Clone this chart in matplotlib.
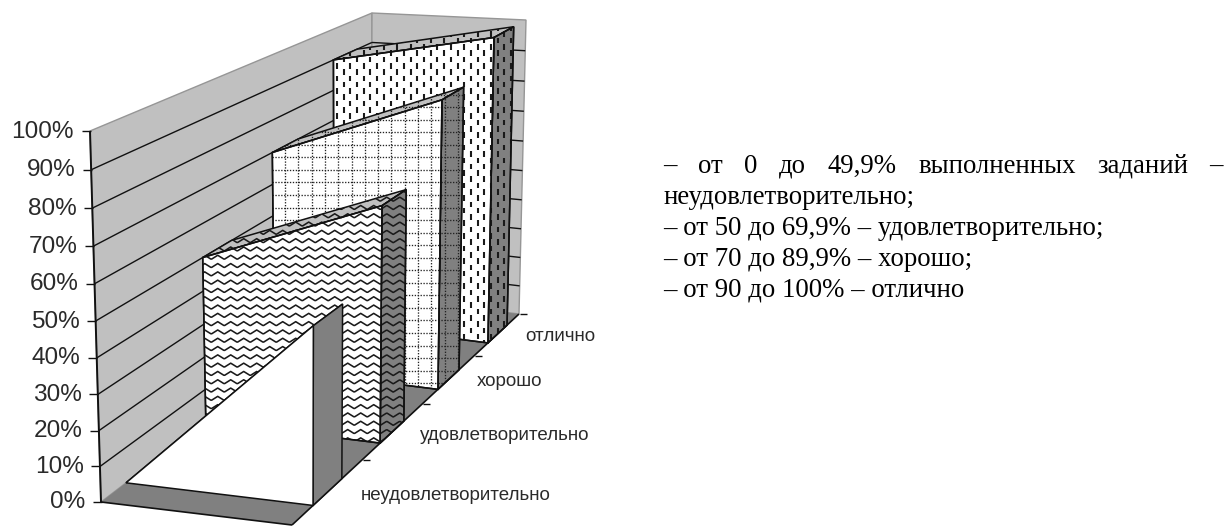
import numpy as np
import matplotlib
matplotlib.use("Agg")
import matplotlib.pyplot as plt
from matplotlib.patches import Polygon

# ---- data (area-chart series: value at left end, value at right end) ----
categories = ["неудовлетворительно", "удовлетворительно", "хорошо", "отлично"]
low_values = [0, 50, 70, 90]
high_values = [49.9, 69.9, 89.9, 100]
percent_ticks = [0, 10, 20, 30, 40, 50, 60, 70, 80, 90, 100]
note_words = ["–", "от", "0", "до", "49,9%", "выполненных", "заданий", "–"]
note_lines = ["неудовлетворительно;",
              "– от 50 до 69,9% – удовлетворительно;",
              "– от 70 до 89,9% – хорошо;",
              "– от 90 до 100% – отлично"]

# ---- scene geometry ----
W, H = 1225, 526
CORNERS = {  # box corner (x, depth, z) -> pixel
    (0, 0, 0): (101, 502), (1, 0, 0): (292, 525), (0, 0, 1): (90, 131), (1, 0, 1): (292, 148),
    (0, 1, 0): (371, 295), (1, 1, 0): (519, 314), (0, 1, 1): (372, 13), (1, 1, 1): (526, 20),
}
K = 0.336      # perspective along depth
KZ = 0.05      # perspective along height
FRONT = [0.071, 0.322, 0.574, 0.825]
BACK = [0.174, 0.421, 0.676, 0.931]
LABEL_DX = [32, 27, 28.5, 28]
LABEL_DY = [4.5, 4.5, 2.5, 2.5]
WALL = "#c0c0c0"
DARK = "#808080"
EDGE = "#111111"


def project(x, d, z):
    s = (K * d / (1 + K * d)) / (K / (1 + K))
    f = z / (1 + KZ * (1 - z))
    p = np.zeros(2)
    for cx, wx in ((0, 1 - x), (1, x)):
        for cz, wz in ((0, 1 - f), (1, f)):
            for cd, wd in ((0, 1 - s), (1, s)):
                p += wx * wz * wd * np.array(CORNERS[(cx, cd, cz)], float)
    return p


fig = plt.figure(figsize=(W / 100, H / 100), dpi=100)
ax = fig.add_axes([0, 0, 1, 1])
ax.set_xlim(0, W)
ax.set_ylim(H, 0)
ax.axis("off")


def poly(pts, fc, ec=EDGE, lw=1.1, z=2):
    p = Polygon(np.array(pts), closed=True, fc=fc, ec=ec, lw=lw, zorder=z, joinstyle="miter")
    ax.add_patch(p)
    return p


def line(a, b, color=EDGE, lw=1.0, z=2):
    ax.plot([a[0], b[0]], [a[1], b[1]], color=color, lw=lw, zorder=z, solid_capstyle="butt")


def fill_pattern(patch, kind, z):
    """screen-space fill patterns, clipped to the patch"""
    pts = patch.get_xy()
    x0, y0 = pts.min(0)
    x1, y1 = pts.max(0)
    arts = []
    if kind == "wave":
        xs = np.arange(x0 - 14, x1 + 14, 1.0)
        for r in np.arange(0, H, 8.3):
            if y0 - 4 <= r <= y1 + 4:
                ys = r + 1.3 * np.arcsin(np.sin(2 * np.pi * xs / 13.0))
                arts += ax.plot(xs, ys, color="#1a1a1a", lw=1.15, zorder=z)
    elif kind == "grid":
        for c in np.arange(5.7, W, 13.3):
            if x0 <= c <= x1:
                arts += ax.plot([c, c], [y0, y1], color="#222222", lw=0.95, ls=(0, (1, 1.2)), zorder=z)
        for r in np.arange(6.7, H, 12.55):
            if y0 <= r <= y1:
                arts += ax.plot([x0, x1], [r, r], color="#222222", lw=0.95, ls=(0, (1, 1.2)), zorder=z)
    elif kind == "dash":
        for i, c in enumerate(np.arange(2, W, 6.7)):
            if x0 - 1 <= c <= x1 + 1:
                offs = 6.3 if i % 2 else 0
                for r in np.arange(offs, H, 12.6):
                    if y0 - 6 <= r <= y1 + 6:
                        arts += ax.plot([c, c], [r, r + 5.5], color="#1a1a1a", lw=1.5, zorder=z,
                                        solid_capstyle="butt")
    for a in arts:
        a.set_clip_path(patch)


# walls and floor
poly([project(0, 0, 0), project(0, 0, 1), project(0, 1, 1), project(0, 1, 0)], WALL, ec="#969696", lw=1.0, z=1)
poly([project(0, 1, 0), project(0, 1, 1), project(1, 1, 1), project(1, 1, 0)], WALL, ec="#969696", lw=1.0, z=1)
for t in percent_ticks[1:-1]:
    z = t / 100
    line(project(0, 0, z), project(0, 1, z), z=1.5)
    line(project(0, 1, z), project(1, 1, z), z=1.5)
poly([project(0, 0, 0), project(1, 0, 0), project(1, 1, 0), project(0, 1, 0)], DARK, ec="none", z=1.6)
line(project(0, 0, 0), project(1, 0, 0), lw=1.2, z=1.7)
line(project(1, 0, 0), project(1, 1, 0), lw=1.2, z=1.7)

# value axis
line(project(0, 0, 0), project(0, 0, 1), lw=1.4, z=8)
for t in percent_ticks:
    a = project(0, 0, t / 100)
    line(a - np.array([8.5, 0]), a + np.array([0.5, 0]), lw=1.0, z=8)
    ax.text(a[0] - 16, a[1] + 0.5, f"{t}%", ha="right", va="center", fontsize=17.6,
            family="Liberation Sans", color="#2a2a2a", zorder=9)

# depth-axis ticks
for d in (0.25, 0.5, 0.75, 1.0):
    a = project(1, d, 0)
    line(a + np.array([1, 0]), a + np.array([8, 0]), lw=1.0, z=1.8)

# series, back to front
patterns = [None, "wave", "grid", "dash"]
for i in reversed(range(len(categories))):
    f, b = FRONT[i], BACK[i]
    lo, hi = low_values[i] / 100, high_values[i] / 100
    base = 3 + (3 - i) * 3
    top_c = "white" if patterns[i] is None else WALL
    top = poly([project(0, f, lo), project(1, f, hi), project(1, b, hi), project(0, b, lo)], top_c, z=base)
    side = poly([project(1, f, 0), project(1, f, hi), project(1, b, hi), project(1, b, 0)], DARK, z=base)
    front = poly([project(0, f, 0), project(1, f, 0), project(1, f, hi), project(0, f, lo)], "white", z=base + 1)
    if patterns[i]:
        fill_pattern(top, patterns[i], base + 0.5)
        fill_pattern(side, patterns[i], base + 0.5)
        fill_pattern(front, patterns[i], base + 1.5)
        # redraw outline above the fill
        poly(front.get_xy(), "none", z=base + 1.7)
        poly(side.get_xy(), "none", z=base + 0.7)

# category labels, left aligned beside each slot of the depth axis
for i, c in enumerate(categories):
    a = project(1, 0.125 + 0.25 * i, 0)
    ax.text(a[0] + LABEL_DX[i], a[1] + LABEL_DY[i], c, ha="left", va="center", fontsize=13.5,
            family="Liberation Sans", color="#2a2a2a", zorder=9)

# note block at the right
X0, X1 = 663, 1223
LINE_Y = [173, 204.5, 235, 266, 296]
fs = 19.25
serif = dict(fontsize=fs, family="Liberation Serif", color="black", va="baseline", ha="left")
fig.canvas.draw()
rend = fig.canvas.get_renderer()
tx = [ax.text(0, LINE_Y[0], w, **serif) for w in note_words]
widths = [t.get_window_extent(rend).width for t in tx]
gap = (X1 - X0 - sum(widths)) / (len(tx) - 1)
cx = X0
for t, w in zip(tx, widths):
    t.set_x(cx)
    cx += w + gap
for y, s in zip(LINE_Y[1:], note_lines):
    ax.text(X0, y, s, **serif)

fig.savefig("out.png", dpi=100)
